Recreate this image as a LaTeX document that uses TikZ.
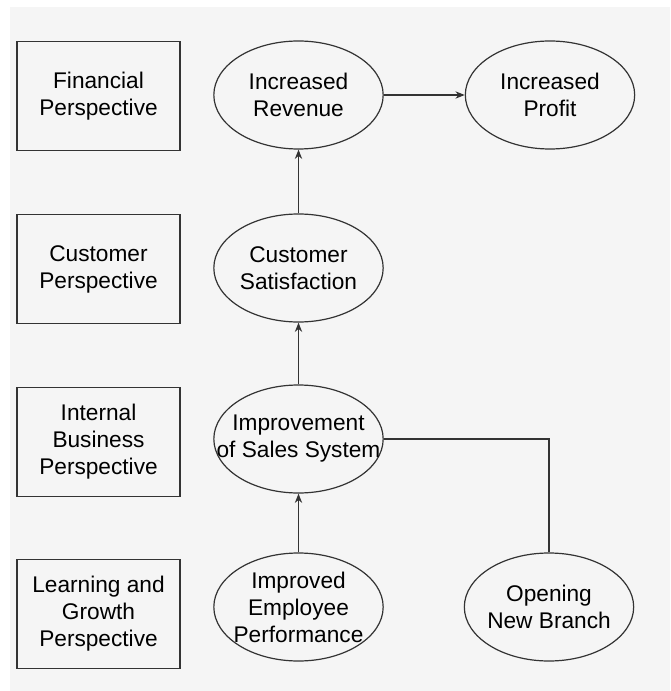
\documentclass[tikz,border=0pt]{standalone}
\usepackage{fontspec}
\setmainfont{Liberation Sans}
\usetikzlibrary{shapes.geometric,arrows.meta}

\definecolor{paper}{gray}{0.96}
\definecolor{ink}{gray}{0.2}

\tikzset{
  persp/.style={draw=ink, line width=1.2pt, minimum width=122pt, minimum height=82pt,
    inner sep=0pt, align=center, font=\fontsize{17}{20.3}\selectfont},
  goal/.style={draw=ink, line width=0.9pt, ellipse, minimum width=127pt, minimum height=81pt,
    inner sep=0pt},
  goaltext/.style={align=center, inner sep=0pt, font=\fontsize{17}{20.3}\selectfont},
  link/.style={draw=ink, line width=0.9pt, -{Stealth[length=7pt,width=5.5pt]}},
}

\begin{document}
\begin{tikzpicture}[x=0.75pt,y=-0.75pt]

\useasboundingbox (0,0) rectangle (670,691);
\fill[paper] (10,7) rectangle (670,691);

% perspectives
\node[persp] (fin) at (98.5,96) {Financial\\Perspective};
\node[persp] (cust) at (98.5,269) {Customer\\Perspective};
\node[persp] (intern) at (98.5,442) {Internal\\Business\\Perspective};
\node[persp] (learn) at (98.5,614) {Learning and\\Growth\\Perspective};

% objectives
\node[goal, label={[goaltext]center:{Increased\\Revenue}}] (revenue) at (298.5,95) {};
\node[goal, label={[goaltext]center:{Increased\\Profit}}] (profit) at (550,95) {};
\node[goal, label={[goaltext]center:{Customer\\Satisfaction}}] (satisf) at (298.5,268) {};
\node[goal, label={[goaltext]center:{Improvement\\of Sales System}}] (sales) at (298.5,439) {};
\node[goal, label={[goaltext]center:{Improved\\Employee\\Performance}}] (employee) at (298.5,607) {};
\node[goal, label={[goaltext]center:{Opening\\New Branch}}] (branch) at (549,607) {};

% cause and effect
\draw[link] (revenue) -- (profit);
\draw[link] (satisf) -- (revenue);
\draw[link] (sales) -- (satisf);
\draw[link] (employee) -- (sales);
\draw[draw=ink, line width=0.9pt] (branch.north) |- (sales.east);

\end{tikzpicture}
\end{document}
